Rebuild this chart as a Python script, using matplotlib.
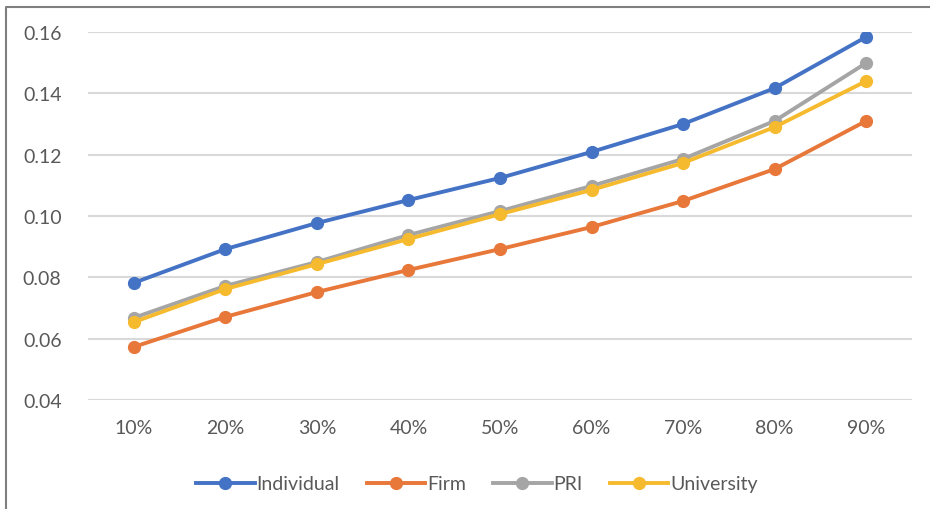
import matplotlib
matplotlib.use("Agg")
import matplotlib.pyplot as plt
import numpy as np

plt.rcParams['font.family'] = ['Lato', 'DejaVu Sans']

# data
categories = ['10%', '20%', '30%', '40%', '50%', '60%', '70%', '80%', '90%']
individual = [0.0782, 0.0892, 0.0977, 0.1052, 0.1124, 0.1209, 0.1300, 0.1417, 0.1584]
firm = [0.0573, 0.0671, 0.0752, 0.0824, 0.0892, 0.0964, 0.1049, 0.1153, 0.1310]
pri = [0.0668, 0.0772, 0.0850, 0.0938, 0.1016, 0.1098, 0.1186, 0.1310, 0.1499]
university = [0.0654, 0.0762, 0.0843, 0.0925, 0.1006, 0.1085, 0.1173, 0.1290, 0.1440]
yticks = [0.04, 0.06, 0.08, 0.10, 0.12, 0.14, 0.16]

series = [('Individual', individual, '#4472C4'),
          ('Firm', firm, '#E8773A'),
          ('PRI', pri, '#A5A5A5'),
          ('University', university, '#F6BA2E')]

fig = plt.figure(figsize=(9.3, 5.1), dpi=100)
ax = fig.add_axes([88/930, 109/510, 824/930, 368/510])

# frame line on the left and top edge of the image
fig.add_artist(plt.Line2D([6/930, 6/930, 1], [0, 1 - 8/510, 1 - 8/510],
                          transform=fig.transFigure, color='#7F7F7F', lw=1.5))

x = np.arange(len(categories))
for name, vals, col in series:
    ax.plot(x, vals, '-o', color=col, lw=2.8, ms=8.5, label=name)

ax.set_xlim(-0.5, len(categories) - 0.5)
ax.set_ylim(0.04, 0.16)
ax.set_yticks(yticks)
ax.set_yticklabels(['%.2f' % v for v in yticks])
ax.set_xticks(x)
ax.set_xticklabels(categories)
ax.yaxis.grid(True, color='#D9D9D9', lw=1.5)
ax.set_axisbelow(True)
for s in ax.spines.values():
    s.set_visible(False)
ax.tick_params(length=0, labelsize=14, colors='#595959')
ax.tick_params(axis='x', pad=14)
ax.tick_params(axis='y', pad=19)

fig.legend(loc='center', bbox_to_anchor=(0.513, 1 - 485/510), ncol=4,
           frameon=False, fontsize=14, handlelength=3.0, columnspacing=1.4,
           handletextpad=0.1, labelcolor='#595959')

fig.savefig('out.png', dpi=100)
